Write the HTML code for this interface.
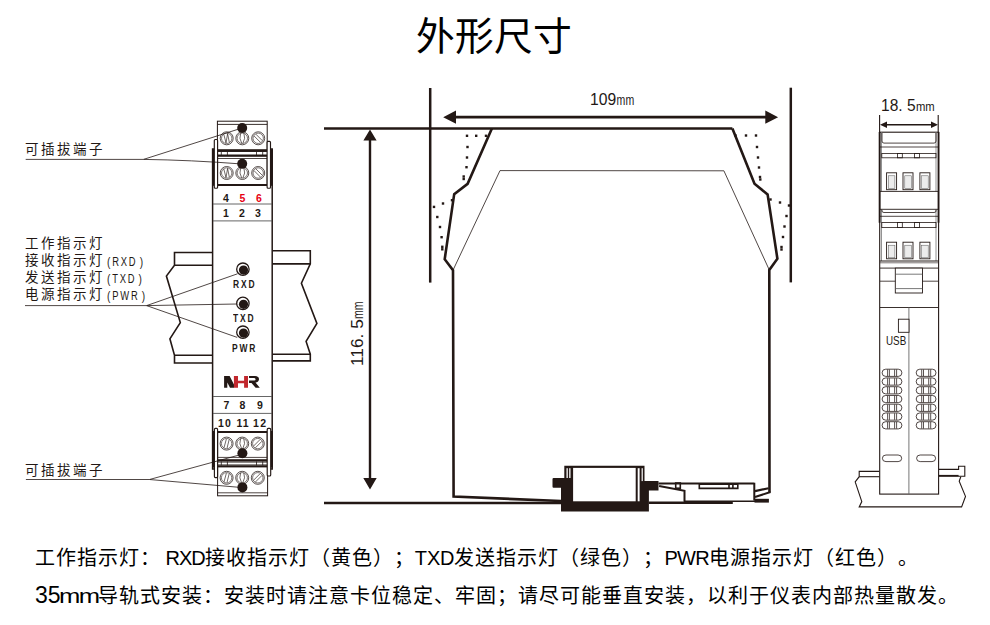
<!DOCTYPE html>
<html lang="zh-CN"><head><meta charset="utf-8">
<style>
html,body{margin:0;padding:0;background:#fff;}
body{width:990px;height:625px;position:relative;overflow:hidden;font-family:"Liberation Sans",sans-serif;text-spacing-trim:space-all;}
.t{position:absolute;white-space:nowrap;line-height:1;}
svg{position:absolute;left:0;top:0;}
.lab{color:#231815;font-size:13.5px;letter-spacing:2.9px;font-weight:500;}
.lat{color:#231815;font-size:12.5px;letter-spacing:2.4px;transform:scaleX(0.75);transform-origin:0 0;}
.pp{font-size:13.5px;font-weight:normal;}
.num{font-weight:bold;font-size:10.5px;color:#231815;}
.led{font-size:10.3px;font-weight:bold;letter-spacing:2.3px;color:#231815;transform:scaleX(0.82);transform-origin:0 0;}
.bt{font-size:20px;letter-spacing:1px;color:#000;font-weight:500;}
</style></head><body>
<svg width="990" height="625" viewBox="0 0 990 625"><g fill="#fff" stroke="#231815" stroke-width="1.6" stroke-linejoin="miter"><path d="M212.5 252.5 L174.5 252.5 L174.5 265.2 L166.4 276.1 L180.3 322.6 L169.9 338.8 L174.5 355.3 L174.5 363 L212.5 363" fill="none"/><path d="M174.5 265.2 L212.5 265.2 M174.5 355.3 L212.5 355.3" fill="none"/><path d="M272.4 250.8 L310.3 250.8 L310.3 263.9 L301.4 283.2 L316.9 323.5 L306.1 341.4 L310.3 354.2 L310.3 360.9 L272.4 360.9" fill="none"/><path d="M272.4 263.9 L310.3 263.9 M272.4 354.2 L310.3 354.2" fill="none"/></g><rect x="212.6" y="149" width="59.6" height="320" fill="#fff" stroke="#231815" stroke-width="1.5"/><line x1="213" y1="204" x2="272" y2="204" stroke="#555" stroke-width="0.9"/><line x1="213" y1="220.9" x2="272" y2="220.9" stroke="#555" stroke-width="0.9"/><line x1="213" y1="396.5" x2="272" y2="396.5" stroke="#555" stroke-width="0.9"/><line x1="213" y1="413.4" x2="272" y2="413.4" stroke="#555" stroke-width="0.9"/><rect x="217.4" y="121.2" width="49.8" height="30" fill="#fff" stroke="#231815" stroke-width="1"/><line x1="217.4" y1="124.4" x2="267.2" y2="124.4" stroke="#231815" stroke-width="0.9"/><rect x="217.4" y="155" width="49.8" height="30" fill="#fff" stroke="#231815" stroke-width="1"/><line x1="217.4" y1="158.5" x2="267.2" y2="158.5" stroke="#231815" stroke-width="0.8"/><line x1="217.4" y1="184.9" x2="267.2" y2="184.9" stroke="#231815" stroke-width="2"/><rect x="217.4" y="149.2" width="49.8" height="2.7" fill="#231815"/><rect x="217.4" y="155" width="49.8" height="1.8" fill="#231815"/><line x1="221.3" y1="151.9" x2="221.3" y2="155" stroke="#231815" stroke-width="0.8"/><line x1="227.4" y1="151.9" x2="227.4" y2="155" stroke="#231815" stroke-width="0.8"/><line x1="256.5" y1="151.9" x2="256.5" y2="155" stroke="#231815" stroke-width="0.8"/><line x1="262.7" y1="151.9" x2="262.7" y2="155" stroke="#231815" stroke-width="0.8"/><circle cx="226.7" cy="138.3" r="6.5" fill="#fff" stroke="#231815" stroke-width="0.75"/><circle cx="226.7" cy="138.3" r="5.2" fill="none" stroke="#231815" stroke-width="0.6"/><path d="M223.79999999999998 134.3 L226.0 142.9 M227.6 133.70000000000002 L226.0 142.9 M227.6 133.70000000000002 L229.29999999999998 142.3" stroke="#231815" stroke-width="0.65" fill="none"/><circle cx="226.7" cy="173" r="6.5" fill="#fff" stroke="#231815" stroke-width="0.75"/><circle cx="226.7" cy="173" r="5.2" fill="none" stroke="#231815" stroke-width="0.6"/><path d="M223.79999999999998 169 L226.0 177.6 M227.6 168.4 L226.0 177.6 M227.6 168.4 L229.29999999999998 177" stroke="#231815" stroke-width="0.65" fill="none"/><circle cx="242.3" cy="138.3" r="6.5" fill="#fff" stroke="#231815" stroke-width="0.75"/><circle cx="242.3" cy="138.3" r="5.2" fill="none" stroke="#231815" stroke-width="0.6"/><path d="M240.70000000000002 133.4 Q238.70000000000002 138.3 241.70000000000002 143.20000000000002 M243.9 133.4 Q245.9 138.3 242.9 143.20000000000002" stroke="#231815" stroke-width="0.65" fill="none"/><circle cx="242.3" cy="173" r="6.5" fill="#fff" stroke="#231815" stroke-width="0.75"/><circle cx="242.3" cy="173" r="5.2" fill="none" stroke="#231815" stroke-width="0.6"/><path d="M240.70000000000002 168.1 Q238.70000000000002 173 241.70000000000002 177.9 M243.9 168.1 Q245.9 173 242.9 177.9" stroke="#231815" stroke-width="0.65" fill="none"/><circle cx="258.2" cy="138.3" r="6.5" fill="#fff" stroke="#231815" stroke-width="0.75"/><circle cx="258.2" cy="138.3" r="5.2" fill="none" stroke="#231815" stroke-width="0.6"/><path d="M254.0 135.9 L260.59999999999997 142.5 M255.79999999999998 134.10000000000002 L262.4 140.70000000000002" stroke="#231815" stroke-width="0.65" fill="none"/><circle cx="258.2" cy="173" r="6.5" fill="#fff" stroke="#231815" stroke-width="0.75"/><circle cx="258.2" cy="173" r="5.2" fill="none" stroke="#231815" stroke-width="0.6"/><path d="M254.0 170.6 L260.59999999999997 177.2 M255.79999999999998 168.8 L262.4 175.4" stroke="#231815" stroke-width="0.65" fill="none"/><circle cx="242.2" cy="128" r="5" fill="#231815"/><circle cx="242.2" cy="163.7" r="5" fill="#231815"/><rect x="212" y="149.2" width="2.4" height="36.6" fill="#231815"/><rect x="214.3" y="139.5" width="3.3" height="48.7" rx="1" fill="#fff" stroke="#231815" stroke-width="1.15"/><rect x="270.5" y="149.2" width="2.4" height="36.6" fill="#231815"/><rect x="267.1" y="141.3" width="3.4" height="46.9" rx="1" fill="#fff" stroke="#231815" stroke-width="1.15"/><rect x="217.6" y="432" width="49.6" height="30" fill="#fff" stroke="#231815" stroke-width="1"/><line x1="217.6" y1="432" x2="267.2" y2="432" stroke="#231815" stroke-width="2"/><line x1="217.6" y1="457.4" x2="267.2" y2="457.4" stroke="#231815" stroke-width="0.8"/><rect x="217.6" y="465" width="50" height="30.8" fill="#fff" stroke="#231815" stroke-width="1"/><line x1="217.6" y1="492.8" x2="267.6" y2="492.8" stroke="#231815" stroke-width="0.8"/><rect x="217.6" y="459.2" width="49.6" height="2.2" fill="#231815"/><rect x="217.6" y="465.4" width="49.6" height="2" fill="#231815"/><line x1="221.3" y1="461.4" x2="221.3" y2="465.4" stroke="#231815" stroke-width="0.8"/><line x1="227.4" y1="461.4" x2="227.4" y2="465.4" stroke="#231815" stroke-width="0.8"/><line x1="256.5" y1="461.4" x2="256.5" y2="465.4" stroke="#231815" stroke-width="0.8"/><line x1="262.7" y1="461.4" x2="262.7" y2="465.4" stroke="#231815" stroke-width="0.8"/><circle cx="226.6" cy="443.6" r="6.5" fill="#fff" stroke="#231815" stroke-width="0.75"/><circle cx="226.6" cy="443.6" r="5.2" fill="none" stroke="#231815" stroke-width="0.6"/><path d="M224.0 447.8 L226.4 438.90000000000003 M227.0 448.3 L229.2 439.40000000000003" stroke="#231815" stroke-width="0.65" fill="none"/><circle cx="226.6" cy="477.8" r="6.5" fill="#fff" stroke="#231815" stroke-width="0.75"/><circle cx="226.6" cy="477.8" r="5.2" fill="none" stroke="#231815" stroke-width="0.6"/><path d="M224.0 482.0 L226.4 473.1 M227.0 482.5 L229.2 473.6" stroke="#231815" stroke-width="0.65" fill="none"/><circle cx="242.2" cy="443.6" r="6.5" fill="#fff" stroke="#231815" stroke-width="0.75"/><circle cx="242.2" cy="443.6" r="5.2" fill="none" stroke="#231815" stroke-width="0.6"/><path d="M240.6 438.70000000000005 Q238.6 443.6 241.6 448.5 M243.79999999999998 438.70000000000005 Q245.79999999999998 443.6 242.79999999999998 448.5" stroke="#231815" stroke-width="0.65" fill="none"/><circle cx="242.2" cy="477.8" r="6.5" fill="#fff" stroke="#231815" stroke-width="0.75"/><circle cx="242.2" cy="477.8" r="5.2" fill="none" stroke="#231815" stroke-width="0.6"/><path d="M240.6 472.90000000000003 Q238.6 477.8 241.6 482.7 M243.79999999999998 472.90000000000003 Q245.79999999999998 477.8 242.79999999999998 482.7" stroke="#231815" stroke-width="0.65" fill="none"/><circle cx="257.8" cy="443.6" r="6.5" fill="#fff" stroke="#231815" stroke-width="0.75"/><circle cx="257.8" cy="443.6" r="5.2" fill="none" stroke="#231815" stroke-width="0.6"/><path d="M253.60000000000002 446.0 L260.2 439.40000000000003 M255.4 447.8 L262.0 441.20000000000005" stroke="#231815" stroke-width="0.65" fill="none"/><circle cx="257.8" cy="477.8" r="6.5" fill="#fff" stroke="#231815" stroke-width="0.75"/><circle cx="257.8" cy="477.8" r="5.2" fill="none" stroke="#231815" stroke-width="0.6"/><path d="M253.60000000000002 480.2 L260.2 473.6 M255.4 482.0 L262.0 475.40000000000003" stroke="#231815" stroke-width="0.65" fill="none"/><circle cx="242.4" cy="453.2" r="5" fill="#231815"/><circle cx="242.4" cy="487.4" r="5" fill="#231815"/><rect x="212.2" y="431" width="2.3" height="36.6" fill="#231815"/><rect x="214.4" y="428.4" width="3.2" height="49.2" rx="1" fill="#fff" stroke="#231815" stroke-width="1.15"/><rect x="270.7" y="431" width="2.2" height="36.6" fill="#231815"/><rect x="267.2" y="428.4" width="3.5" height="47.6" rx="1" fill="#fff" stroke="#231815" stroke-width="1.15"/><circle cx="242.9" cy="269.2" r="6.2" fill="#fff" stroke="#231815" stroke-width="1.3"/><circle cx="243.5" cy="270.09999999999997" r="4.6" fill="#231815"/><circle cx="242.9" cy="303.4" r="6.2" fill="#fff" stroke="#231815" stroke-width="1.3"/><circle cx="243.5" cy="304.29999999999995" r="4.6" fill="#231815"/><circle cx="242.9" cy="332.2" r="6.2" fill="#fff" stroke="#231815" stroke-width="1.3"/><circle cx="243.5" cy="333.09999999999997" r="4.6" fill="#231815"/><path d="M224.1 376.1 L229.6 376.1 L234 384.5 L234 387.7 L230 387.7 L227.3 382.5 L227.3 387.7 L224.1 387.7 Z" fill="#231815"/><path d="M233.9 376.1 L238 376.1 L238 380.7 L244.1 380.7 L244.1 376.1 L248 376.1 L248 387.7 L244.1 387.7 L244.1 383.2 L238 383.2 L238 387.7 L233.9 387.7 Z" fill="#c1272d"/><path d="M249 376.1 L255 376.1 Q259 376.3 259 379.2 Q258.8 381.8 255.5 382.6 L259.8 387.7 L255.6 387.7 L251.5 383 L249 383 L249 380.6 L254.3 380.6 Q255.6 380.3 255.6 379.2 Q255.5 378.2 254.3 378 L249 378 Z" fill="#231815"/><path d="M25.7 159.4 L143.5 159.4 L242 128 M143.5 159.4 Q190 160 242 164" stroke="#231815" stroke-width="0.8" fill="none"/><path d="M25 305.6 L146.6 305.6 L237.5 273.8 M146.6 305.6 L237 304 M146.6 305.6 L237.2 337.4" stroke="#231815" stroke-width="0.8" fill="none"/><path d="M25.9 479.5 L149.5 479.5 L239.2 455 M149.5 479.5 L239 487.3" stroke="#231815" stroke-width="0.8" fill="none"/><path d="M324 128.6 L732.4 128.6" stroke="#231815" stroke-width="2.5" fill="none"/><path d="M430.2 88 L430.2 282.6" stroke="#231815" stroke-width="2.5" fill="none"/><path d="M790.8 87.7 L790.8 282.4" stroke="#231815" stroke-width="2.5" fill="none"/><path d="M455 117.2 L766 117.2" stroke="#231815" stroke-width="2.7"/><path d="M443.2 117.2 L456 110.6 L456 123.8 Z M778.1 117.2 L765.3 110.6 L765.3 123.8 Z" fill="#231815"/><path d="M370 140 L370 478" stroke="#231815" stroke-width="2.4"/><path d="M370 129.6 L363.4 140.6 L376.6 140.6 Z M370 489.5 L363.3 478 L376.7 478 Z" fill="#231815"/><path d="M324 503 L561 503" stroke="#231815" stroke-width="2.5" fill="none"/><path d="M491.9 128.6 L467.6 183.8 L454.2 194.1 L444.7 259.2 L453 270.2 L453.6 496.6 L561 501" stroke="#231815" stroke-width="2.6" fill="none" stroke-linejoin="miter"/><path d="M732.4 128.6 L754.5 183.8 L767.6 194.4 L777.4 258.7 L769.3 270 L769.5 492.6" stroke="#231815" stroke-width="2.6" fill="none" stroke-linejoin="miter"/><path d="M453 270.2 L500 170.6 L723.9 170.8 L769.3 270" stroke="#231815" stroke-width="0.8" fill="none"/><rect x="465.8" y="134.60000000000002" width="2.4" height="2.4" fill="#231815"/><rect x="475.0" y="134.60000000000002" width="2.4" height="2.4" fill="#231815"/><rect x="484.8" y="134.60000000000002" width="2.4" height="2.4" fill="#231815"/><rect x="466.3" y="145.8" width="2.4" height="2.4" fill="#231815"/><rect x="465.8" y="156.3" width="2.4" height="2.4" fill="#231815"/><rect x="465.3" y="166.0" width="2.4" height="2.4" fill="#231815"/><rect x="462.5" y="175.3" width="2.4" height="2.4" fill="#231815"/><rect x="462.5" y="177.8" width="2.4" height="2.4" fill="#231815"/><rect x="432.8" y="205.70000000000002" width="2.4" height="2.4" fill="#231815"/><rect x="441.8" y="202.3" width="2.4" height="2.4" fill="#231815"/><rect x="450.8" y="199.0" width="2.4" height="2.4" fill="#231815"/><rect x="436.1" y="215.8" width="2.4" height="2.4" fill="#231815"/><rect x="438.8" y="225.8" width="2.4" height="2.4" fill="#231815"/><rect x="440.40000000000003" y="236.0" width="2.4" height="2.4" fill="#231815"/><rect x="441.1" y="245.60000000000002" width="2.4" height="2.4" fill="#231815"/><rect x="441.1" y="248.10000000000002" width="2.4" height="2.4" fill="#231815"/><rect x="734.3" y="134.3" width="2.4" height="2.4" fill="#231815"/><rect x="744.8" y="134.3" width="2.4" height="2.4" fill="#231815"/><rect x="754.8" y="134.3" width="2.4" height="2.4" fill="#231815"/><rect x="755.8" y="145.8" width="2.4" height="2.4" fill="#231815"/><rect x="756.8" y="156.3" width="2.4" height="2.4" fill="#231815"/><rect x="757.8" y="166.3" width="2.4" height="2.4" fill="#231815"/><rect x="758.8" y="175.8" width="2.4" height="2.4" fill="#231815"/><rect x="759.0999999999999" y="178.3" width="2.4" height="2.4" fill="#231815"/><rect x="769.3" y="198.3" width="2.4" height="2.4" fill="#231815"/><rect x="778.8" y="201.3" width="2.4" height="2.4" fill="#231815"/><rect x="787.8" y="204.3" width="2.4" height="2.4" fill="#231815"/><rect x="785.3" y="214.8" width="2.4" height="2.4" fill="#231815"/><rect x="783.3" y="225.3" width="2.4" height="2.4" fill="#231815"/><rect x="781.8" y="235.8" width="2.4" height="2.4" fill="#231815"/><rect x="780.3" y="245.8" width="2.4" height="2.4" fill="#231815"/><rect x="780.3" y="248.3" width="2.4" height="2.4" fill="#231815"/><path d="M564.3 465.7 L644.5 465.7 L644.5 481.1 L658.5 481.1 L658.5 490.6 L648.9 490.6 L648.9 511.5 L561 511.5 L561 487.7 L553.5 487.7 Q552.5 487.7 552.5 486.5 L552.5 479.2 Q552.5 478 553.5 478 L564.3 478 Z" fill="#231815"/><rect x="573.1" y="467.9" width="62.6" height="33.4" fill="#fff"/><rect x="566.5" y="468.2" width="1.3" height="9.8" fill="#fff"/><rect x="569.2" y="468.2" width="1.3" height="9.8" fill="#fff"/><rect x="637.7" y="468.2" width="1.9" height="33.1" fill="#fff"/><rect x="641.6" y="468.2" width="1.2" height="12.9" fill="#fff"/><path d="M324 501.8 L561 501.8" stroke="#231815" stroke-width="0"/><path d="M658.5 483.6 L754.3 483.6 M754.3 482.8 L754.3 500.5 M659.1 485.9 L684.5 490.8 L684.5 501.7" stroke="#231815" stroke-width="2" fill="none"/><rect x="675.7" y="483" width="4.6" height="5.2" fill="none" stroke="#231815" stroke-width="1.6"/><path d="M699.3 484.2 L737.8 484.2 L737.8 488.4 L699.3 488.4 Z M729 484 L729 489 M732.9 484 L732.9 489" stroke="#231815" stroke-width="1.6" fill="none"/><path d="M648.9 502.8 L732.8 502.8" stroke="#231815" stroke-width="2.4"/><path d="M684 501.2 L755 501.2" stroke="#231815" stroke-width="1.6"/><rect x="754.5" y="498.8" width="14.4" height="3.8" fill="#231815"/><path d="M755 491.1 L768.6 488.2 M755 496.9 L770.5 492.1" stroke="#231815" stroke-width="2.1"/><path d="M879.5 471.4 L859.2 471.4 L859.2 476.7 L855.2 481.9 L861.8 501.6 L859.2 506.9 L961.6 506.9 L965.5 496.4 L959.2 481.3 L960.8 476.7" stroke="#231815" fill="none" stroke-width="1.1"/><path d="M859.2 476.7 L879.5 476.7" stroke="#231815" fill="none" stroke-width="1.1"/><path d="M938.5 469.4 L958.6 469.4 L958.6 466.2 L964.8 466.2 L964.8 476.3 L938.5 476.3" stroke="#231815" fill="none" stroke-width="1.1"/><path d="M938.5 475.6 L958.6 475.6" stroke="#231815" stroke-width="1.4"/><rect x="879.7" y="132.2" width="58.9" height="361.9" fill="#fff" stroke="#231815" stroke-width="1.1"/><path d="M879.6 115 L879.6 132 M938.2 115 L938.2 132" stroke="#231815" fill="none" stroke-width="1.1"/><path d="M886.5 124.8 L931.5 124.8" stroke="#231815" stroke-width="1.5"/><path d="M880 124.8 L887 121.6 L887 128 Z M938 124.8 L931 121.6 L931 128 Z" fill="#231815"/><path d="M879.6 132 L879.6 222.7 M938.5 132 L938.5 222.7" stroke="#231815" stroke-width="1.8"/><path d="M881.5 132.2 L881.5 191.4 M936 132.2 L936 191.4" stroke="#777" stroke-width="0.8"/><path d="M882 133 L882 141 Q882 143.1 884 143.1 L934 143.1 Q936 143.1 936 141 L936 133" stroke="#231815" fill="none" stroke-width="0.8"/><path d="M880 147 L938 147" stroke="#231815" fill="none" stroke-width="0.8"/><rect x="881.8" y="153.4" width="54.2" height="4.4" stroke="#231815" fill="none" stroke-width="0.8"/><rect x="897.5" y="153.4" width="4.8" height="4.4" stroke="#231815" fill="none" stroke-width="0.8"/><rect x="914.5" y="153.4" width="4.9" height="4.4" stroke="#231815" fill="none" stroke-width="0.8"/><rect x="886.6" y="172.8" width="10" height="16.899999999999977" fill="#fff" stroke="#231815" stroke-width="0.9"/><rect x="888.4" y="175.8" width="6.5" height="12.899999999999977" fill="#ececec" stroke="#555" stroke-width="0.5"/><rect x="903" y="172.8" width="10" height="16.899999999999977" fill="#fff" stroke="#231815" stroke-width="0.9"/><rect x="904.8" y="175.8" width="6.5" height="12.899999999999977" fill="#ececec" stroke="#555" stroke-width="0.5"/><rect x="919.9" y="172.8" width="10" height="16.899999999999977" fill="#fff" stroke="#231815" stroke-width="0.9"/><rect x="921.6999999999999" y="175.8" width="6.5" height="12.899999999999977" fill="#ececec" stroke="#555" stroke-width="0.5"/><path d="M880 191.4 L938 191.4" stroke="#231815" fill="none" stroke-width="0.9"/><path d="M881.5 209.3 L881.5 261 M936 209.3 L936 261" stroke="#777" stroke-width="0.8"/><path d="M880 209.3 L938 209.3" stroke="#231815" fill="none" stroke-width="0.9"/><path d="M882 210 L882 211 Q882 212.5 884 212.5 L934 212.5 Q936 212.5 936 211 L936 210" stroke="#231815" fill="none" stroke-width="0.8"/><path d="M880 216.3 L938 216.3" stroke="#231815" fill="none" stroke-width="0.8"/><rect x="881.8" y="222.5" width="54.2" height="5.1" stroke="#231815" fill="none" stroke-width="0.8"/><rect x="897.5" y="222.5" width="4.8" height="5.1" stroke="#231815" fill="none" stroke-width="0.8"/><rect x="914.5" y="222.5" width="4.9" height="5.1" stroke="#231815" fill="none" stroke-width="0.8"/><rect x="886.6" y="242.2" width="10" height="16.600000000000023" fill="#fff" stroke="#231815" stroke-width="0.9"/><rect x="888.4" y="245.2" width="6.5" height="12.600000000000023" fill="#ececec" stroke="#555" stroke-width="0.5"/><rect x="903" y="242.2" width="10" height="16.600000000000023" fill="#fff" stroke="#231815" stroke-width="0.9"/><rect x="904.8" y="245.2" width="6.5" height="12.600000000000023" fill="#ececec" stroke="#555" stroke-width="0.5"/><rect x="919.9" y="242.2" width="10" height="16.600000000000023" fill="#fff" stroke="#231815" stroke-width="0.9"/><rect x="921.6999999999999" y="245.2" width="6.5" height="12.600000000000023" fill="#ececec" stroke="#555" stroke-width="0.5"/><path d="M880 261 L938 261" stroke="#231815" stroke-width="1.2"/><path d="M880 262.8 L938 262.8" stroke="#231815" fill="none" stroke-width="0.6"/><path d="M880 268.1 L938 268.1" stroke="#231815" fill="none" stroke-width="0.9"/><rect x="895.3" y="268.1" width="27.2" height="24.9" fill="#fff" stroke="#231815" fill="none" stroke-width="0.9"/><path d="M895.3 274.2 L922.5 274.2 M895.3 288.6 L922.5 288.6" stroke="#555" stroke-width="0.8"/><path d="M880 281.2 L895.3 281.2 M922.5 281.2 L938 281.2" stroke="#231815" fill="none" stroke-width="0.8"/><path d="M880 307.5 L938 307.5" stroke="#231815" fill="none" stroke-width="0.9"/><path d="M908.9 307.5 L908.9 494" stroke="#666" stroke-width="0.9"/><rect x="898.4" y="319.2" width="10.6" height="13.1" fill="#fff" stroke="#231815" fill="none" stroke-width="0.9"/><rect x="882.1" y="369.2" width="19.8" height="7.2" rx="3.6" fill="#fff" stroke="#231815" stroke-width="0.8"/><line x1="887.6" y1="369.5" x2="887.6" y2="376.09999999999997" stroke="#231815" stroke-width="0.75"/><line x1="889.4" y1="369.5" x2="889.4" y2="376.09999999999997" stroke="#231815" stroke-width="0.75"/><line x1="894.6" y1="369.5" x2="894.6" y2="376.09999999999997" stroke="#231815" stroke-width="0.75"/><line x1="896.6" y1="369.5" x2="896.6" y2="376.09999999999997" stroke="#231815" stroke-width="0.75"/><rect x="916.2" y="369.2" width="19.8" height="7.2" rx="3.6" fill="#fff" stroke="#231815" stroke-width="0.8"/><line x1="921.7" y1="369.5" x2="921.7" y2="376.09999999999997" stroke="#231815" stroke-width="0.75"/><line x1="923.5" y1="369.5" x2="923.5" y2="376.09999999999997" stroke="#231815" stroke-width="0.75"/><line x1="928.7" y1="369.5" x2="928.7" y2="376.09999999999997" stroke="#231815" stroke-width="0.75"/><line x1="930.7" y1="369.5" x2="930.7" y2="376.09999999999997" stroke="#231815" stroke-width="0.75"/><rect x="882.1" y="377.95" width="19.8" height="7.2" rx="3.6" fill="#fff" stroke="#231815" stroke-width="0.8"/><line x1="887.6" y1="378.25" x2="887.6" y2="384.84999999999997" stroke="#231815" stroke-width="0.75"/><line x1="889.4" y1="378.25" x2="889.4" y2="384.84999999999997" stroke="#231815" stroke-width="0.75"/><line x1="894.6" y1="378.25" x2="894.6" y2="384.84999999999997" stroke="#231815" stroke-width="0.75"/><line x1="896.6" y1="378.25" x2="896.6" y2="384.84999999999997" stroke="#231815" stroke-width="0.75"/><rect x="916.2" y="377.95" width="19.8" height="7.2" rx="3.6" fill="#fff" stroke="#231815" stroke-width="0.8"/><line x1="921.7" y1="378.25" x2="921.7" y2="384.84999999999997" stroke="#231815" stroke-width="0.75"/><line x1="923.5" y1="378.25" x2="923.5" y2="384.84999999999997" stroke="#231815" stroke-width="0.75"/><line x1="928.7" y1="378.25" x2="928.7" y2="384.84999999999997" stroke="#231815" stroke-width="0.75"/><line x1="930.7" y1="378.25" x2="930.7" y2="384.84999999999997" stroke="#231815" stroke-width="0.75"/><rect x="882.1" y="386.7" width="19.8" height="7.2" rx="3.6" fill="#fff" stroke="#231815" stroke-width="0.8"/><line x1="887.6" y1="387.0" x2="887.6" y2="393.59999999999997" stroke="#231815" stroke-width="0.75"/><line x1="889.4" y1="387.0" x2="889.4" y2="393.59999999999997" stroke="#231815" stroke-width="0.75"/><line x1="894.6" y1="387.0" x2="894.6" y2="393.59999999999997" stroke="#231815" stroke-width="0.75"/><line x1="896.6" y1="387.0" x2="896.6" y2="393.59999999999997" stroke="#231815" stroke-width="0.75"/><rect x="916.2" y="386.7" width="19.8" height="7.2" rx="3.6" fill="#fff" stroke="#231815" stroke-width="0.8"/><line x1="921.7" y1="387.0" x2="921.7" y2="393.59999999999997" stroke="#231815" stroke-width="0.75"/><line x1="923.5" y1="387.0" x2="923.5" y2="393.59999999999997" stroke="#231815" stroke-width="0.75"/><line x1="928.7" y1="387.0" x2="928.7" y2="393.59999999999997" stroke="#231815" stroke-width="0.75"/><line x1="930.7" y1="387.0" x2="930.7" y2="393.59999999999997" stroke="#231815" stroke-width="0.75"/><rect x="882.1" y="395.45" width="19.8" height="7.2" rx="3.6" fill="#fff" stroke="#231815" stroke-width="0.8"/><line x1="887.6" y1="395.75" x2="887.6" y2="402.34999999999997" stroke="#231815" stroke-width="0.75"/><line x1="889.4" y1="395.75" x2="889.4" y2="402.34999999999997" stroke="#231815" stroke-width="0.75"/><line x1="894.6" y1="395.75" x2="894.6" y2="402.34999999999997" stroke="#231815" stroke-width="0.75"/><line x1="896.6" y1="395.75" x2="896.6" y2="402.34999999999997" stroke="#231815" stroke-width="0.75"/><rect x="916.2" y="395.45" width="19.8" height="7.2" rx="3.6" fill="#fff" stroke="#231815" stroke-width="0.8"/><line x1="921.7" y1="395.75" x2="921.7" y2="402.34999999999997" stroke="#231815" stroke-width="0.75"/><line x1="923.5" y1="395.75" x2="923.5" y2="402.34999999999997" stroke="#231815" stroke-width="0.75"/><line x1="928.7" y1="395.75" x2="928.7" y2="402.34999999999997" stroke="#231815" stroke-width="0.75"/><line x1="930.7" y1="395.75" x2="930.7" y2="402.34999999999997" stroke="#231815" stroke-width="0.75"/><rect x="882.1" y="404.2" width="19.8" height="7.2" rx="3.6" fill="#fff" stroke="#231815" stroke-width="0.8"/><line x1="887.6" y1="404.5" x2="887.6" y2="411.09999999999997" stroke="#231815" stroke-width="0.75"/><line x1="889.4" y1="404.5" x2="889.4" y2="411.09999999999997" stroke="#231815" stroke-width="0.75"/><line x1="894.6" y1="404.5" x2="894.6" y2="411.09999999999997" stroke="#231815" stroke-width="0.75"/><line x1="896.6" y1="404.5" x2="896.6" y2="411.09999999999997" stroke="#231815" stroke-width="0.75"/><rect x="916.2" y="404.2" width="19.8" height="7.2" rx="3.6" fill="#fff" stroke="#231815" stroke-width="0.8"/><line x1="921.7" y1="404.5" x2="921.7" y2="411.09999999999997" stroke="#231815" stroke-width="0.75"/><line x1="923.5" y1="404.5" x2="923.5" y2="411.09999999999997" stroke="#231815" stroke-width="0.75"/><line x1="928.7" y1="404.5" x2="928.7" y2="411.09999999999997" stroke="#231815" stroke-width="0.75"/><line x1="930.7" y1="404.5" x2="930.7" y2="411.09999999999997" stroke="#231815" stroke-width="0.75"/><rect x="882.1" y="412.95" width="19.8" height="7.2" rx="3.6" fill="#fff" stroke="#231815" stroke-width="0.8"/><line x1="887.6" y1="413.25" x2="887.6" y2="419.84999999999997" stroke="#231815" stroke-width="0.75"/><line x1="889.4" y1="413.25" x2="889.4" y2="419.84999999999997" stroke="#231815" stroke-width="0.75"/><line x1="894.6" y1="413.25" x2="894.6" y2="419.84999999999997" stroke="#231815" stroke-width="0.75"/><line x1="896.6" y1="413.25" x2="896.6" y2="419.84999999999997" stroke="#231815" stroke-width="0.75"/><rect x="916.2" y="412.95" width="19.8" height="7.2" rx="3.6" fill="#fff" stroke="#231815" stroke-width="0.8"/><line x1="921.7" y1="413.25" x2="921.7" y2="419.84999999999997" stroke="#231815" stroke-width="0.75"/><line x1="923.5" y1="413.25" x2="923.5" y2="419.84999999999997" stroke="#231815" stroke-width="0.75"/><line x1="928.7" y1="413.25" x2="928.7" y2="419.84999999999997" stroke="#231815" stroke-width="0.75"/><line x1="930.7" y1="413.25" x2="930.7" y2="419.84999999999997" stroke="#231815" stroke-width="0.75"/><rect x="882.1" y="421.7" width="19.8" height="7.2" rx="3.6" fill="#fff" stroke="#231815" stroke-width="0.8"/><line x1="887.6" y1="422.0" x2="887.6" y2="428.59999999999997" stroke="#231815" stroke-width="0.75"/><line x1="889.4" y1="422.0" x2="889.4" y2="428.59999999999997" stroke="#231815" stroke-width="0.75"/><line x1="894.6" y1="422.0" x2="894.6" y2="428.59999999999997" stroke="#231815" stroke-width="0.75"/><line x1="896.6" y1="422.0" x2="896.6" y2="428.59999999999997" stroke="#231815" stroke-width="0.75"/><rect x="916.2" y="421.7" width="19.8" height="7.2" rx="3.6" fill="#fff" stroke="#231815" stroke-width="0.8"/><line x1="921.7" y1="422.0" x2="921.7" y2="428.59999999999997" stroke="#231815" stroke-width="0.75"/><line x1="923.5" y1="422.0" x2="923.5" y2="428.59999999999997" stroke="#231815" stroke-width="0.75"/><line x1="928.7" y1="422.0" x2="928.7" y2="428.59999999999997" stroke="#231815" stroke-width="0.75"/><line x1="930.7" y1="422.0" x2="930.7" y2="428.59999999999997" stroke="#231815" stroke-width="0.75"/><rect x="882.4" y="455.0" width="19.3" height="6.6" rx="3.6" fill="#fff" stroke="#231815" stroke-width="0.8"/><rect x="916.6" y="455.0" width="19.0" height="6.6" rx="3.6" fill="#fff" stroke="#231815" stroke-width="0.8"/></svg>
<div class="t" style="left:415.5px;top:18px;font-size:38.8px;color:#000;font-weight:500;">外形尺寸</div>
<div class="t lab" style="left:25px;top:142.5px;">可插拔端子</div>
<div class="t lab" style="left:25px;top:237px;">工作指示灯</div>
<div class="t lab" style="left:25px;top:254px;">接收指示灯</div>
<div class="t lab" style="left:25px;top:271px;">发送指示灯</div>
<div class="t lab" style="left:25px;top:288px;">电源指示灯</div>
<div class="t lat" style="left:107px;top:254.5px;"><span class="pp">(</span>RXD<span class="pp" style="margin-left:3px">)</span></div>
<div class="t lat" style="left:107px;top:271.5px;"><span class="pp">(</span>TXD<span class="pp" style="margin-left:3px">)</span></div>
<div class="t lat" style="left:107px;top:288.5px;"><span class="pp">(</span>PWR<span class="pp" style="margin-left:3px">)</span></div>
<div class="t lab" style="left:25px;top:463.5px;">可插拔端子</div>
<div class="t num" style="left:223px;top:193px;">4</div>
<div class="t num" style="left:239.5px;top:193px;color:#e60012">5</div>
<div class="t num" style="left:256px;top:193px;color:#e60012">6</div>
<div class="t num" style="left:223px;top:208px;">1</div>
<div class="t num" style="left:239px;top:208px;">2</div>
<div class="t num" style="left:255px;top:208px;">3</div>
<div class="t num" style="left:223.5px;top:400px;">7</div>
<div class="t num" style="left:239.5px;top:400px;">8</div>
<div class="t num" style="left:257px;top:400px;">9</div>
<div class="t num" style="left:218px;top:418px;letter-spacing:1.2px">10</div>
<div class="t num" style="left:236.5px;top:418px;letter-spacing:1px">11</div>
<div class="t num" style="left:253px;top:418px;letter-spacing:1.5px">12</div>
<div class="t led" style="left:232.8px;top:280px;">RXD</div>
<div class="t led" style="left:233px;top:314px;">TXD</div>
<div class="t led" style="left:232.3px;top:344px;">PWR</div>
<div class="t" style="left:590px;top:91px;font-size:16.5px;color:#231815;transform:scaleX(0.95);transform-origin:0 0;">109<span style="display:inline-block;font-size:14.8px;transform:scaleX(0.75);transform-origin:0 0;">mm</span></div>
<div class="t" style="left:881px;top:97.5px;font-size:16px;color:#231815;transform:scaleX(0.97);transform-origin:0 0;">18. 5<span style="display:inline-block;font-size:13.5px;transform:scaleX(0.86);transform-origin:0 0;">mm</span></div>
<div class="t" style="left:886px;top:334.5px;font-size:12px;color:#231815;transform:scaleX(0.82);transform-origin:0 0;">USB</div>
<div class="t" style="left:349px;top:366px;font-size:17.3px;color:#231815;transform:rotate(-90deg);transform-origin:0 0;">116. 5<span style="display:inline-block;font-size:14px;transform:scaleX(0.75);transform-origin:0 0;">mm</span></div>
<div class="t bt" style="left:35px;top:547.5px;">工作指示灯： <span style="margin-left:-2px;letter-spacing:-1px">RXD</span>接收指示灯（黄色）；<span style="letter-spacing:-0.13px">TXD</span>发送指示灯（绿色）；<span style="letter-spacing:-0.73px">PWR</span>电源指示灯（红色）。</div>
<div class="t bt" style="left:35px;top:584px;"><span style="font-size:23px;letter-spacing:0">35</span><span style="display:inline-block;width:38.4px;margin-left:-1.3px;font-size:21px;letter-spacing:-1.35px"><span style="display:inline-block;transform:scaleX(1.22);transform-origin:0 0;">mm</span></span>导轨式安装：安装时请注意卡位稳定、牢固；请尽可能垂直安装，以利于仪表内部热量散发。</div>
</body></html>
